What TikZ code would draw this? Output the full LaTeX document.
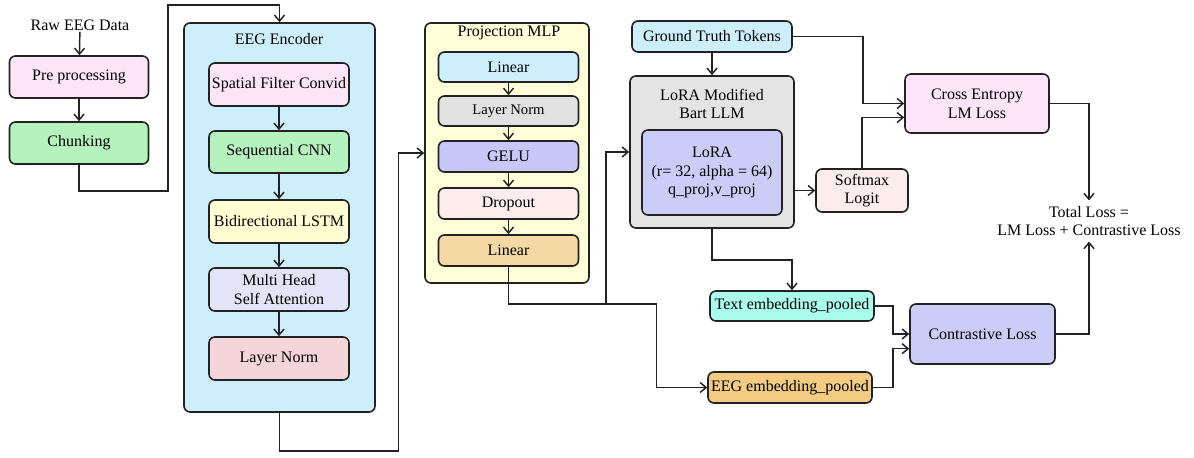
\documentclass[tikz,border=0pt]{standalone}
\usepackage{fontspec}
\setmainfont{Liberation Serif}
\usepackage{tikz}
\usetikzlibrary{arrows.meta,positioning,calc}
\definecolor{lineink}{HTML}{222222}
\definecolor{pinkfill}{HTML}{FCE4F9}
\definecolor{greenfill}{HTML}{B6F2BE}
\definecolor{encblue}{HTML}{CDEEFB}
\definecolor{lstmyellow}{HTML}{FEFED2}
\definecolor{lavender}{HTML}{E4E4F8}
\definecolor{rosefill}{HTML}{F5D4DA}
\definecolor{mlpyellow}{HTML}{FEFED8}
\definecolor{cyanfill}{HTML}{CDEFFC}
\definecolor{grayfill}{HTML}{E1E1E1}
\definecolor{violetfill}{HTML}{C8C8F8}
\definecolor{blushfill}{HTML}{FDECEC}
\definecolor{peachfill}{HTML}{F5D9A5}
\definecolor{llmgray}{HTML}{E4E4E4}
\definecolor{lorafill}{HTML}{CCCCF8}
\definecolor{aquafill}{HTML}{AAFCEB}
\definecolor{orangefill}{HTML}{F3CB82}

\begin{document}
\begin{tikzpicture}[x=0.75pt, y=-0.75pt,
    every node/.style={font=\fontsize{12}{14}\selectfont},
    blk/.style={draw=lineink, line width=1.2pt, rounded corners=4.5pt, align=center, inner sep=0pt},
    sz/.style 2 args={minimum width=#1*0.75pt, minimum height=#2*0.75pt},
    arr/.style={draw=lineink, line width=1.1pt, -{Straight Barb[length=4.5pt,width=7.5pt]}}]
    \useasboundingbox (0,0) rectangle (1194,457);

    % input side
    \node[inner sep=1pt] (raw) at (80,25) {Raw EEG Data};
    \node[blk, sz={139}{42}, fill=pinkfill] (pre) at (79,77) {Pre processing};
    \node[blk, sz={139}{42}, fill=greenfill] (chunk) at (79,143) {Chunking};

    % EEG encoder
    \node[blk, sz={191}{389}, fill=encblue] (enc) at (279.5,217.5) {};
    \node (enctitle) at (279,39) {EEG Encoder};
    \node[blk, sz={140}{43}, fill=pinkfill] (sfc) at (279,84.5) {Spatial Filter Convid};
    \node[blk, sz={140}{42}, fill=greenfill] (scnn) at (279,152) {Sequential CNN};
    \node[blk, sz={140}{43}, fill=lstmyellow] (lstm) at (279,221.5) {Bidirectional LSTM};
    \node[blk, sz={140}{43}, fill=lavender] (mhsa) at (279,289.5) {Multi Head\\Self Attention};
    \node[blk, sz={140}{43}, fill=rosefill] (ln1) at (279,358.5) {Layer Norm};

    % projection MLP
    \node[blk, sz={164}{260}, fill=mlpyellow] (mlp) at (507,153) {};
    \node (mlptitle) at (509,33) {Projection MLP};
    \node[blk, sz={140}{30}, fill=cyanfill] (lin1) at (508.5,67) {Linear};
    \node[blk, sz={140}{30}, fill=grayfill, font=\fontsize{11}{13}\selectfont] (ln2) at (508.5,111) {Layer Norm};
    \node[blk, sz={140}{31}, fill=violetfill] (gelu) at (508.5,156.5) {GELU};
    \node[blk, sz={140}{31}, fill=blushfill] (drop) at (508.5,203.5) {Dropout};
    \node[blk, sz={140}{31}, fill=peachfill] (lin2) at (508.5,250.5) {Linear};

    % language model
    \node[blk, sz={160}{31}, fill=cyanfill] (gt) at (712,36.5) {Ground Truth Tokens};
    \node[blk, sz={164}{152}, fill=llmgray] (llm) at (712,152) {};
    \node (llmtitle) at (712,104) [align=center] {LoRA Modified\\Bart LLM};
    \node[blk, sz={140}{85}, fill=lorafill] (lora) at (712,172.5) {LoRA\\(r= 32, alpha = 64)\\q\_proj,v\_proj};
    \node[blk, sz={92}{43}, fill=blushfill] (soft) at (862,190.5) {Softmax\\Logit};
    \node[blk, sz={144}{59}, fill=pinkfill] (ce) at (977,103.5) {Cross Entropy\\LM Loss};

    % contrastive branch
    \node[blk, sz={164}{30}, fill=aquafill] (txtemb) at (792,306) {Text embedding\_pooled};
    \node[blk, sz={164}{31}, fill=orangefill] (eegemb) at (790,387.5) {EEG embedding\_pooled};
    \node[blk, sz={145}{60}, fill=lorafill] (cl) at (982.5,334) {Contrastive Loss};
    \node[align=center, inner sep=4pt] (total) at (1089,221) {Total Loss =\\LM Loss + Contrastive Loss};

    \draw[arr] (raw) -- (pre);
    \draw[arr] (pre) -- (chunk);
    \draw[arr] (chunk.south) -- ++(0,26) -- ++(89,0) -- ++(0,-186) -| (enc.north);
    \foreach \a/\b in {sfc/scnn, scnn/lstm, lstm/mhsa, mhsa/ln1}
        \draw[arr] (\a) -- (\b);
    \draw[arr] (enc.south) -- ++(0,38) -- ++(119,0) |- (mlp.west);
    \foreach \a/\b in {lin1/ln2, ln2/gelu, gelu/drop, drop/lin2}
        \draw[arr] (\a) -- (\b);
    \draw[arr] (lin2.south) -- ++(0,37) -- ++(148,0) |- (eegemb.west);
    \coordinate (split) at (606,303);
    \draw[arr] (split) |- (llm.west);
    \draw[arr] (gt) -- (llm);
    \draw[arr] (llm.east |- soft.west) -- (soft.west);
    \draw[arr] (llm.south) -- ++(0,31) -| (txtemb.north);
    \draw[arr] (gt.east) -- ++(70,0) |- (ce.west);
    \draw[arr] (soft.north) |- ([yshift=-10.5pt]ce.west);
    \draw[arr] (ce.east) -| (total.north);
    \draw[arr] (txtemb.east) -- ++(18,0) |- (cl.west);
    \draw[arr] (eegemb.east) -- ++(20,0) |- ([yshift=-11pt]cl.west);
    \draw[arr] (cl.east) -| (total.south);
\end{tikzpicture}
\end{document}
